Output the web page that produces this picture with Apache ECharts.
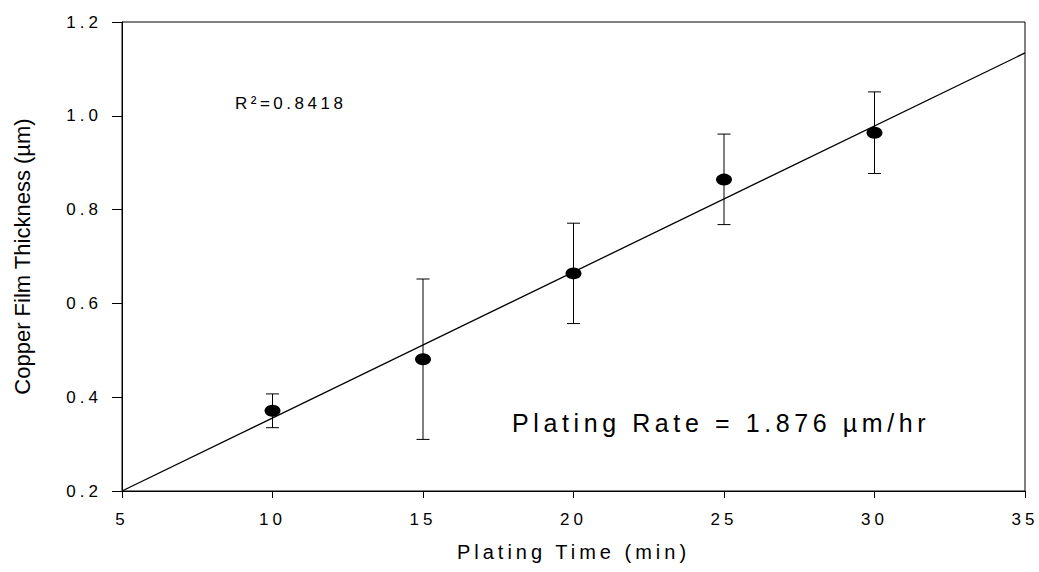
<!DOCTYPE html>
<html>
<head>
<meta charset="utf-8">
<script src="https://cdn.jsdelivr.net/npm/echarts@6/dist/echarts.min.js"></script>
<style>
html,body{margin:0;padding:0;background:#fff;}
#chart{width:1039px;height:572px;}
</style>
</head>
<body>
<div id="chart"></div>
<script>
// ---- data ----
const plateTime = [10, 15, 20, 25, 30];
const thickness = [0.371, 0.481, 0.664, 0.864, 0.964];
const errLow    = [0.335, 0.310, 0.557, 0.768, 0.877];
const errHigh   = [0.407, 0.652, 0.771, 0.961, 1.051];
const fitX = [5, 35];
const fitY = [0.2, 1.134];
const xTickLabels = ['5', '10', '15', '20', '25', '30', '35'];
const yTickLabels = ['0.2', '0.4', '0.6', '0.8', '1.0', '1.2'];
const r2Text = 'R\u00B2=0.8418';
const rateText = 'Plating Rate = 1.876 \u00B5m/hr';
const xTitle = 'Plating Time (min)';
const yTitle = 'Copper Film Thickness (\u00B5m)';

const FONT = '"Liberation Sans", Arial, sans-serif';

const points = plateTime.map((x, i) => [x, thickness[i]]);
const errData = plateTime.map((x, i) => [x, errLow[i], errHigh[i]]);
const fitData = fitX.map((x, i) => [x, fitY[i]]);

const chart = echarts.init(document.getElementById('chart'), null, {renderer: 'svg'});

const option = {
  animation: false,
  backgroundColor: '#fff',
  grid: {left: 122, right: 14, top: 22, bottom: 81, show: true, borderColor: '#000', borderWidth: 1, backgroundColor: 'transparent'},
  xAxis: {
    type: 'value', min: 5, max: 35, interval: 5,
    name: xTitle, nameLocation: 'middle', nameGap: 51,
    nameTextStyle: {fontFamily: FONT, fontSize: 20, color: '#000'},
    axisLine: {show: true, onZero: false, lineStyle: {color: '#000', width: 1}},
    axisTick: {show: true, inside: false, length: 7, lineStyle: {color: '#000'}},
    axisLabel: {
      margin: 20, fontFamily: FONT, fontSize: 17, color: '#000',
      formatter: v => { const i = Math.round((v - 5) / 5); return xTickLabels[i] ?? ''; }
    },
    splitLine: {show: false}
  },
  yAxis: {
    type: 'value', min: 0.2, max: 1.2, interval: 0.2,
    name: yTitle, nameLocation: 'middle', nameGap: 89, nameRotate: 90,
    nameTextStyle: {fontFamily: FONT, fontSize: 22, color: '#000'},
    axisLine: {show: true, onZero: false, lineStyle: {color: '#000', width: 1}},
    axisTick: {show: true, inside: false, length: 10, lineStyle: {color: '#000'}},
    axisLabel: {
      margin: 20, fontFamily: FONT, fontSize: 17, color: '#000',
      formatter: v => { const i = Math.round((v - 0.2) / 0.2); return yTickLabels[i] ?? ''; }
    },
    splitLine: {show: false}
  },
  series: [
    {
      type: 'line', data: fitData, showSymbol: false, symbol: 'none',
      lineStyle: {color: '#000', width: 1.3}, silent: true, z: 2
    },
    {
      type: 'custom', data: errData, silent: true, z: 3,
      renderItem: (params, api) => {
        const x = api.value(0);
        const lo = api.coord([x, api.value(1)]);
        const hi = api.coord([x, api.value(2)]);
        const hw = 6.5;
        const st = {stroke: '#000', lineWidth: 1, fill: null};
        return {type: 'group', children: [
          {type: 'line', shape: {x1: lo[0], y1: lo[1], x2: hi[0], y2: hi[1]}, style: st},
          {type: 'line', shape: {x1: lo[0] - hw, y1: lo[1], x2: lo[0] + hw, y2: lo[1]}, style: st},
          {type: 'line', shape: {x1: hi[0] - hw, y1: hi[1], x2: hi[0] + hw, y2: hi[1]}, style: st}
        ]};
      }
    },
    {
      type: 'scatter', data: points, symbol: 'circle', symbolSize: [16, 12],
      itemStyle: {color: '#000', opacity: 1}, silent: true, z: 4
    }
  ],
  graphic: [
    {type: 'text', left: 235, top: 95, silent: true,
     style: {text: r2Text, font: '17px ' + FONT, fill: '#000'}},
    {type: 'text', left: 512, top: 410, silent: true,
     style: {text: rateText, font: '25px ' + FONT, fill: '#000'}}
  ]
};
chart.setOption(option);

function applySpacing() {
  const texts = document.querySelectorAll('#chart svg text');
  texts.forEach(t => {
    const s = t.textContent;
    let ls = null;
    if (/^[0-9.]+$/.test(s)) ls = 4;
    else if (s === xTitle) ls = 4;
    else if (s === rateText) ls = 4.6;
    else if (s === r2Text) ls = 3.5;
    if (ls !== null) t.setAttribute('letter-spacing', ls + 'px');
  });
}
applySpacing();
chart.on('finished', applySpacing);
setTimeout(applySpacing, 0);
requestAnimationFrame(applySpacing);
</script>
</body>
</html>
